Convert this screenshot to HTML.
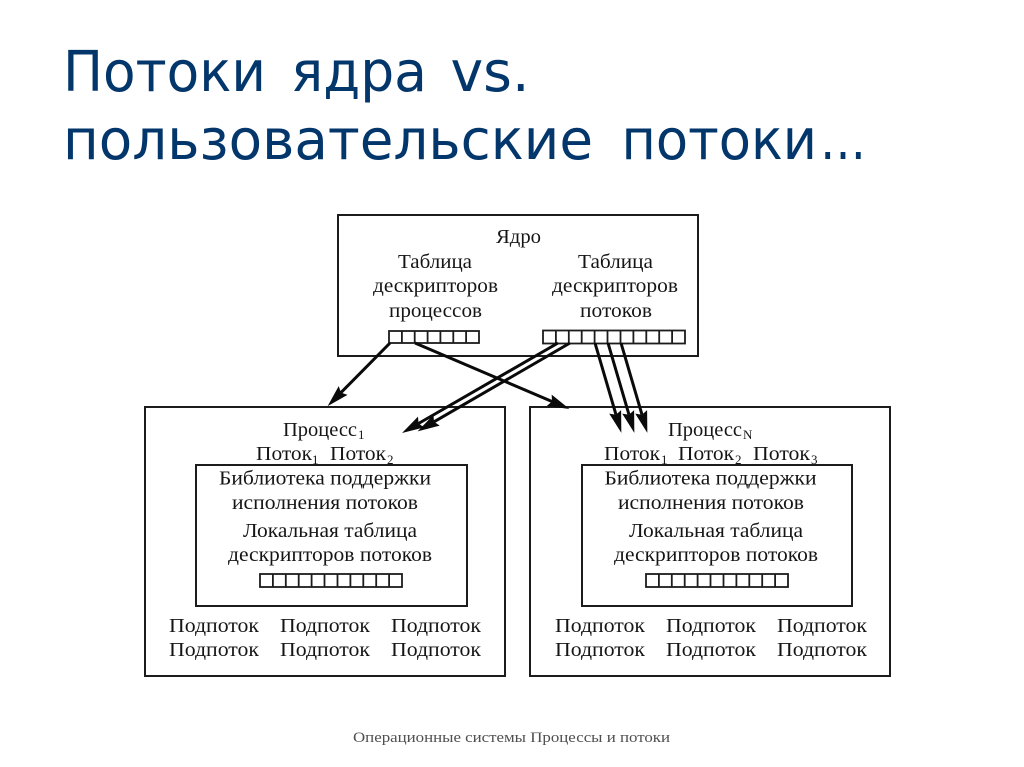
<!DOCTYPE html>
<html lang="ru">
<head>
<meta charset="utf-8">
<title>Потоки ядра vs. пользовательские потоки</title>
<style>
html,body{margin:0;padding:0;background:#fff;width:1024px;height:767px;overflow:hidden}
svg{display:block}
.h{font-family:"DejaVu Sans","Liberation Sans",sans-serif;font-size:56px;fill:#03366b}
.t{font-family:"Liberation Serif",serif;font-size:20px;fill:#151515}
.s{font-family:"Liberation Serif",serif;font-size:13px;fill:#151515}
.f{font-family:"Liberation Serif",serif;font-size:15px;fill:#4f4f4f}
.b{fill:none;stroke:#1c1c1c;stroke-width:2}
.c{fill:none;stroke:#1c1c1c;stroke-width:1.8}
.a{stroke:#0a0a0a;stroke-width:3;fill:none;marker-end:url(#m)}
</style>
</head>
<body>
<svg width="1024" height="767" viewBox="0 0 1024 767" xmlns="http://www.w3.org/2000/svg">
<defs>
<marker id="m" markerUnits="userSpaceOnUse" markerWidth="24" markerHeight="14" refX="3" refY="7" orient="auto" overflow="visible">
<path d="M0,0.8 L22,7 L0,13.2 L3,7z" fill="#0a0a0a"/>
</marker>
<g id="t11">
<rect class="c" x="0" y="0" width="142" height="13"/>
<path class="c" d="M12.9 0v13M25.8 0v13M38.7 0v13M51.6 0v13M64.5 0v13M77.5 0v13M90.4 0v13M103.3 0v13M116.2 0v13M129.1 0v13"/>
</g>
</defs>
<rect width="1024" height="767" fill="#fff"/>

<text class="h" x="63" y="91" textLength="203" lengthAdjust="spacingAndGlyphs">Потоки</text>
<text class="h" x="291" y="91" textLength="136" lengthAdjust="spacingAndGlyphs">ядра</text>
<text class="h" x="450.5" y="91" textLength="79" lengthAdjust="spacingAndGlyphs">vs.</text>
<text class="h" x="63" y="159" textLength="530" lengthAdjust="spacingAndGlyphs">пользовательские</text>
<text class="h" x="621.5" y="159" textLength="195.5" lengthAdjust="spacingAndGlyphs">потоки</text>
<text class="h" x="820" y="159" textLength="46" lengthAdjust="spacingAndGlyphs">…</text>

<!-- Kernel -->
<rect class="b" x="338" y="215" width="360" height="141"/>
<text class="t" x="496" y="243" textLength="45" lengthAdjust="spacingAndGlyphs">Ядро</text>
<text class="t" x="398" y="268" textLength="74" lengthAdjust="spacingAndGlyphs">Таблица</text>
<text class="t" x="373" y="292" textLength="125" lengthAdjust="spacingAndGlyphs">дескрипторов</text>
<text class="t" x="389" y="317" textLength="93" lengthAdjust="spacingAndGlyphs">процессов</text>
<text class="t" x="578" y="268" textLength="75" lengthAdjust="spacingAndGlyphs">Таблица</text>
<text class="t" x="552" y="292" textLength="126" lengthAdjust="spacingAndGlyphs">дескрипторов</text>
<text class="t" x="580" y="317" textLength="72" lengthAdjust="spacingAndGlyphs">потоков</text>
<rect class="c" x="389" y="331" width="90" height="12"/>
<path class="c" d="M401.9 331v12M414.7 331v12M427.6 331v12M440.4 331v12M453.3 331v12M466.1 331v12"/>
<use href="#t11" x="543" y="330.5"/>

<!-- Process 1 -->
<rect class="b" x="145" y="407" width="360" height="269"/>
<text class="t" x="283" y="436" textLength="74" lengthAdjust="spacingAndGlyphs">Процесс</text>
<text class="s" x="358" y="439">1</text>
<text class="t" x="256" y="460" textLength="56" lengthAdjust="spacingAndGlyphs">Поток</text>
<text class="s" x="312" y="464">1</text>
<text class="t" x="330" y="460" textLength="56" lengthAdjust="spacingAndGlyphs">Поток</text>
<text class="s" x="387" y="464">2</text>
<rect class="b" x="196" y="465" width="271" height="141"/>
<text class="t" x="219" y="484.5" textLength="212" lengthAdjust="spacingAndGlyphs">Библиотека поддержки</text>
<text class="t" x="232" y="509" textLength="186" lengthAdjust="spacingAndGlyphs">исполнения потоков</text>
<text class="t" x="243" y="537" textLength="174" lengthAdjust="spacingAndGlyphs">Локальная таблица</text>
<text class="t" x="228" y="561" textLength="204" lengthAdjust="spacingAndGlyphs">дескрипторов потоков</text>
<use href="#t11" x="260" y="574"/>
<text class="t" x="169" y="632" textLength="90" lengthAdjust="spacingAndGlyphs">Подпоток</text>
<text class="t" x="280" y="632" textLength="90" lengthAdjust="spacingAndGlyphs">Подпоток</text>
<text class="t" x="391" y="632" textLength="90" lengthAdjust="spacingAndGlyphs">Подпоток</text>
<text class="t" x="169" y="656" textLength="90" lengthAdjust="spacingAndGlyphs">Подпоток</text>
<text class="t" x="280" y="656" textLength="90" lengthAdjust="spacingAndGlyphs">Подпоток</text>
<text class="t" x="391" y="656" textLength="90" lengthAdjust="spacingAndGlyphs">Подпоток</text>

<!-- Process N -->
<rect class="b" x="530" y="407" width="360" height="269"/>
<text class="t" x="668" y="436" textLength="74" lengthAdjust="spacingAndGlyphs">Процесс</text>
<text class="s" x="743" y="439">N</text>
<text class="t" x="604" y="460" textLength="56" lengthAdjust="spacingAndGlyphs">Поток</text>
<text class="s" x="661" y="464">1</text>
<text class="t" x="678" y="460" textLength="56" lengthAdjust="spacingAndGlyphs">Поток</text>
<text class="s" x="735" y="464">2</text>
<text class="t" x="753" y="460" textLength="57" lengthAdjust="spacingAndGlyphs">Поток</text>
<text class="s" x="811" y="464">3</text>
<rect class="b" x="582" y="465" width="270" height="141"/>
<text class="t" x="604.5" y="484.5" textLength="212" lengthAdjust="spacingAndGlyphs">Библиотека поддержки</text>
<text class="t" x="618" y="509" textLength="186" lengthAdjust="spacingAndGlyphs">исполнения потоков</text>
<text class="t" x="629" y="537" textLength="174" lengthAdjust="spacingAndGlyphs">Локальная таблица</text>
<text class="t" x="614" y="561" textLength="204" lengthAdjust="spacingAndGlyphs">дескрипторов потоков</text>
<use href="#t11" x="646" y="574"/>
<text class="t" x="555" y="632" textLength="90" lengthAdjust="spacingAndGlyphs">Подпоток</text>
<text class="t" x="666" y="632" textLength="90" lengthAdjust="spacingAndGlyphs">Подпоток</text>
<text class="t" x="777" y="632" textLength="90" lengthAdjust="spacingAndGlyphs">Подпоток</text>
<text class="t" x="555" y="656" textLength="90" lengthAdjust="spacingAndGlyphs">Подпоток</text>
<text class="t" x="666" y="656" textLength="90" lengthAdjust="spacingAndGlyphs">Подпоток</text>
<text class="t" x="777" y="656" textLength="90" lengthAdjust="spacingAndGlyphs">Подпоток</text>

<!-- Arrows -->
<line class="a" x1="390" y1="343" x2="341" y2="392.6"/>
<line class="a" x1="415" y1="343" x2="552" y2="401.5"/>
<line class="a" x1="558" y1="343" x2="418.5" y2="423.5"/>
<line class="a" x1="570" y1="343" x2="434" y2="421.8"/>
<line class="a" x1="595" y1="343" x2="616" y2="414.7"/>
<line class="a" x1="608" y1="343" x2="629" y2="414.7"/>
<line class="a" x1="621" y1="343" x2="642" y2="414.7"/>

<text class="f" x="353" y="742" textLength="317" lengthAdjust="spacingAndGlyphs">Операционные системы Процессы и потоки</text>
</svg>
</body>
</html>
